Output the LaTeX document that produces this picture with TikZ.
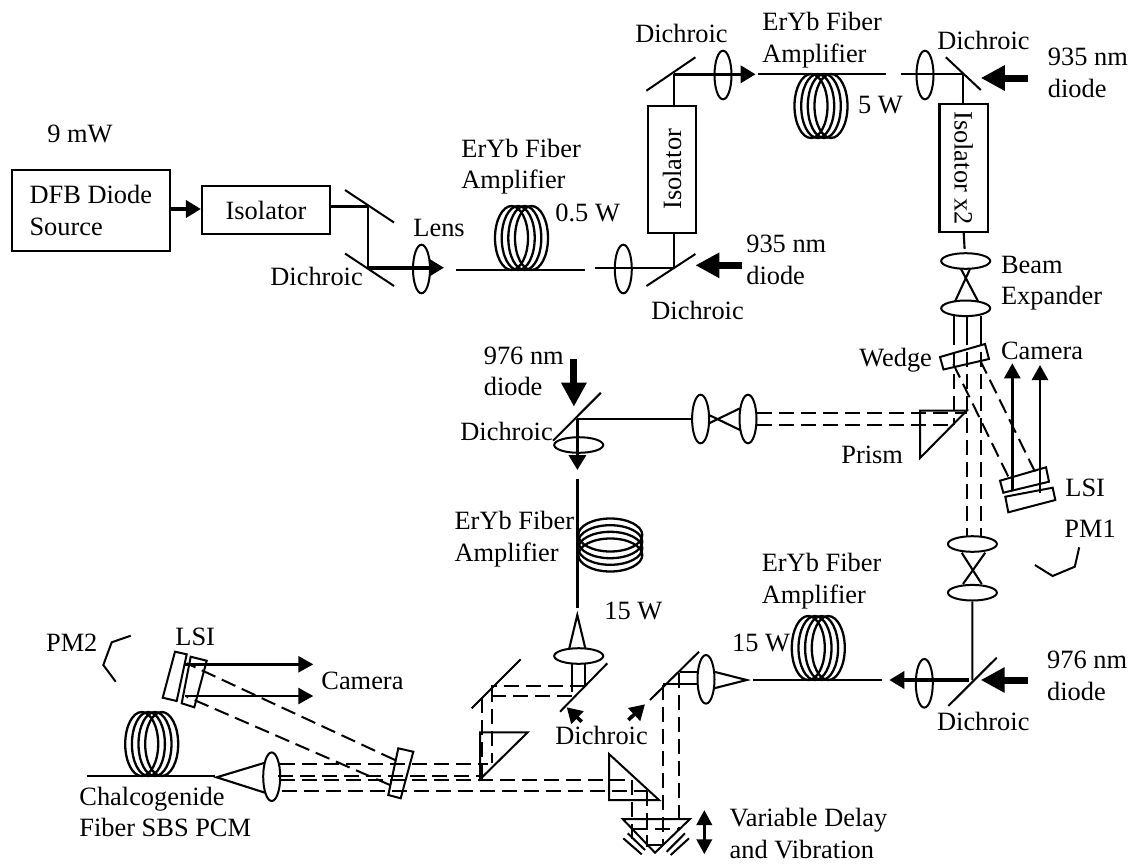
\documentclass[tikz,border=0pt]{standalone}
\usepackage{fontspec}
\setmainfont{Liberation Serif}
\usetikzlibrary{arrows.meta,shapes.geometric}

\tikzset{
    beam/.style={line width=1.05pt},
    mirror/.style={line width=1pt},
    fiber/.style={line width=1.15pt},
    dashbeam/.style={line width=1pt, dash pattern=on 7.5pt off 3.5pt},
    pumparrow/.style={line width=3.5pt, -{Triangle[length=12pt,width=12pt]}},
    beamarrow/.style={line width=1.3pt, -{Triangle[length=7.5pt,width=8pt]}},
    smallarrow/.style={line width=1.8pt, -{Triangle[length=7.5pt,width=8.5pt]}},
    box/.style={draw, line width=1.1pt, inner sep=0pt},
    lensv/.style={ellipse, draw, line width=1pt, inner sep=0pt, minimum width=8.5pt, minimum height=24.3pt},
    lensh/.style={ellipse, draw, line width=1pt, inner sep=0pt, minimum width=24.5pt, minimum height=7.8pt},
    txt/.style={inner sep=0pt, anchor=base west, align=left},
    coil/.pic={\foreach \dx in {-10,-3.3,3.3,10} \draw[fiber] (\dx,0) ellipse (16.5 and 32);}
}

\begin{document}
\begin{tikzpicture}[x=0.5pt, y=-0.5pt, font=\fontsize{13.2}{15.8}\selectfont]
\useasboundingbox (0,0) rectangle (1135,863);

% -- Source and first isolator --
\node[box, align=left, minimum width=79.2pt, minimum height=40.5pt] (dfb) at (90.8,210.5) {DFB Diode\\Source};
\node[box, minimum width=64pt, minimum height=24pt] (isoa) at (266,210) {Isolator};
\node[txt] (pseed) at (47,142) {9 mW};
\draw[smallarrow] (dfb.east |- 0,209) -- (isoa.west |- 0,209);

% -- First mirror pair and lens --
\coordinate (mira) at (368,206.5);
\coordinate (mirb) at (368,267.7);
\draw[mirror] (345,190) -- (394,222.5);
\draw[mirror] (345,253.5) -- (394,286);
\draw[fiber] (isoa.east |- mira) -- (mira);
\draw[beam] (mira) -- (mirb);
\node[lensv] (lensa) at (421.5,269) {};
\coordinate (tipa) at (444,267.7);
\draw[smallarrow] (mirb) -- (tipa);
\node[txt] (llens) at (413,236.7) {Lens};
\node[txt] (ldia) at (270,285) {Dichroic};

% -- Amplifier 0.5 W --
\draw[fiber] (456,270) -- (585,270);
\pic (coila) at (521.5,238) {coil};
\node[txt] (lampa) at (461,188.7) {ErYb Fiber\\Amplifier};
\node[txt] (pampa) at (555,221) {0.5 W};

% -- Second isolator leg --
\node[box, rotate=90, minimum width=63.6pt, minimum height=24pt] (isob) at (672.2,169.3) {Isolator};
\coordinate (mirc) at (674,268);
\coordinate (mird) at (674,74.3);
\draw[mirror] (646.4,286) -- (695.4,254);
\draw[mirror] (646.4,90.7) -- (695.4,57.3);
\draw[beam] (594.5,268) -- (mirc);
\node[lensv] (lensb) at (623.3,269) {};
\draw[beam] (mirc) -- (mirc |- isob.west);
\draw[beam] (mird |- isob.east) -- (mird);
\coordinate (pumpa) at (742.3,265.3);
\draw[pumparrow] (pumpa) -- (695.4,265.3);
\node[txt] (lpa) at (745.9,284) {935 nm\\diode};
\node[txt] (ldib) at (651,319) {Dichroic};
\node[txt] (ldic) at (634.9,42.7) {Dichroic};
\node[lensv] (lensc) at (723,75) {};
\coordinate (tipb) at (755.6,74.3);
\draw[smallarrow] (mird) -- (tipb);

% -- Amplifier 5 W --
\draw[fiber] (758,74) -- (886.4,74);
\pic (coilb) at (821,106) {coil};
\node[txt] (lampb) at (762,62) {ErYb Fiber\\Amplifier};
\node[txt] (pampb) at (857.6,113.3) {5 W};

% -- Third isolator and beam expander --
\coordinate (mire) at (962.8,74);
\draw[beam] (900.8,74) -- (mire);
\node[lensv] (lensd) at (925,75) {};
\draw[mirror] (945.9,57.3) -- (980.8,90);
\node[box, rotate=-90, minimum width=63.9pt, minimum height=24.3pt] (isoc) at (963.7,168.2) {Isolator x2};
\draw[beam] (mire) -- (mire |- isoc.west);
\node[txt] (ldid) at (936.9,49) {Dichroic};
\coordinate (pumpb) at (1028.4,78);
\draw[pumparrow] (pumpb) -- (980.8,78);
\node[txt] (lpb) at (1047.5,97) {935 nm\\diode};
\node[lensh] (expa) at (965.7,261) {};
\node[lensh] (expb) at (965.7,308.3) {};
\draw[beam] (isoc.east) -- (964.6,249);
\draw[beam] (961,269) -- (978.3,301.7);
\draw[beam] (970,269) -- (954.9,301.7);
\node[txt] (lexp) at (1000.6,304.7) {Beam\\Expander};

% -- Expanded beam, wedge and prism --
\foreach \xb in {954.3,966.7,980.7} \draw[beam] (\xb,316) -- (\xb,330);
\draw[dashbeam] (954.3,330) -- (954.3,425);
\draw[dashbeam] (966.7,330) -- (966.7,536.7);
\draw[dashbeam] (980.7,330) -- (980.7,536.7);
\draw[mirror] (940,357) -- (985,344) -- (989,359) -- (943.5,369.5) -- cycle;
\node[txt] (lwedge) at (858.9,366.7) {Wedge};
\node[txt] (lcama) at (1000.7,359.3) {Camera};
\draw[mirror] (920,458) -- (920,410.7) -- (966.7,410.7) -- cycle;
\node[txt] (lprism) at (841,463.3) {Prism};

% -- LSI with camera arrows --
\draw[dashbeam] (953.3,364) -- (1008.3,476.7);
\draw[dashbeam] (980,360) -- (1035,471.7);
\draw[mirror] (1000,480.7) -- (1046,467.3) -- (1049,481.7) -- (1003.3,492.7) -- cycle;
\draw[mirror] (1005.3,496.7) -- (1052.7,487.7) -- (1055.3,500) -- (1008.3,512.3) -- cycle;
\draw[beamarrow] (1012.3,490) -- (1012.3,363.3);
\draw[beamarrow] (1040,492.7) -- (1040,365);
\node[txt] (llsia) at (1065,496) {LSI};
\node[txt] (lpma) at (1064,537.3) {PM1};
\draw[mirror] (1079.2,547.3) -- (1074.8,566.7) -- (1052.6,576) -- (1034.9,565);

% -- Second expander and 976 nm pump --
\node[lensh] (expc) at (972.4,544) {};
\node[lensh] (expd) at (972.4,592.7) {};
\draw[beam] (961.7,552.7) -- (981.7,584);
\draw[beam] (985.2,552.7) -- (963,584);
\coordinate (mirf) at (972.3,680);
\draw[beam] (expd.south) -- (mirf);
\draw[mirror] (948.3,706) -- (996.7,657.7);
\node[lensv] (lense) at (924.3,683.3) {};
\draw[smallarrow] (969.3,680) -- (889.3,680);
\coordinate (pumpc) at (1027.7,680);
\draw[pumparrow] (pumpc) -- (980.7,680);
\node[txt] (lpc) at (1046.7,700) {976 nm\\diode};
\node[txt] (ldie) at (936.7,730.7) {Dichroic};

% -- Amplifier 15 W, lower right --
\draw[fiber] (753.3,680) -- (881.7,680);
\pic (coilc) at (818.3,648) {coil};
\node[txt] (lampc) at (761.4,603) {ErYb Fiber\\Amplifier};
\node[txt] (pampc) at (731.7,651.7) {15 W};

% -- Prism return to the 976 nm pump, upper leg --
\node[lensv] (lensf) at (700.6,419) {};
\node[lensv] (lensg) at (748,419) {};
\coordinate (mirg) at (577.4,419);
\draw[beam] (mirg) -- (lensf.west);
\draw[beam] (709,415) -- (740,430);
\draw[beam] (709,423.3) -- (740,408.3);
\draw[dashbeam] (757,412.7) -- (966.7,412.7);
\draw[dashbeam] (757,425) -- (954.3,425);
\draw[mirror] (553,440.7) -- (600.9,392.7);
\coordinate (pumpd) at (573.9,359.3);
\draw[pumparrow] (pumpd) -- (573.9,406.7);
\node[txt] (lpd) at (483.4,395.7) {976 nm\\diode};
\node[txt] (ldif) at (460,440) {Dichroic};
\node[lensh] (lensh) at (578.7,445) {};
\draw[smallarrow] (mirg) -- (577.4,470);

% -- Amplifier 15 W, middle --
\draw[fiber] (577.4,479.3) -- (577.4,608.3);
\pic[rotate=90] (coild) at (610.3,545) {coil};
\node[txt] (lampd) at (454.2,561) {ErYb Fiber\\Amplifier};
\node[txt] (pampd) at (604,619.3) {15 W};

% -- Lower centre: lens, dichroics, prisms --
\coordinate (apexa) at (577.3,615);
\draw[beam] (569.3,648.3) -- (apexa) -- (585.3,648.3);
\node[lensh] (lensi) at (578.7,656) {};
\draw[beam] (571.7,663) -- (571.7,676.7);
\draw[beam] (585.3,663) -- (585.3,676.7);
\draw[dashbeam] (571.7,676.7) -- (571.7,696.7);
\draw[dashbeam] (585.3,676.7) -- (585.3,685);
\draw[mirror] (560,711.7) -- (607.3,663.3);
\draw[dashbeam] (585,686) -- (490.7,686);
\draw[dashbeam] (571.7,696) -- (491.7,696);
\draw[mirror] (471.7,708.3) -- (520.7,659.3);
\draw[dashbeam] (481.7,698.3) -- (481.7,779.3);
\draw[dashbeam] (491.7,686.7) -- (491.7,763.3);
\draw[mirror] (480,779.3) -- (480,732.3) -- (527.7,732.3) -- cycle;
\draw[smallarrow] (581.7,721.7) -- (566.7,707.3);
\draw[smallarrow] (628.3,720) -- (645,704.3);
\node[txt] (ldig) at (555,744) {Dichroic};

% -- Delay line --
\draw[mirror] (609,754) -- (609,800) -- (659,800) -- cycle;
\draw[dashbeam] (632,780) -- (632,846.7);
\draw[dashbeam] (646.7,791.3) -- (646.7,846.7);
\draw[mirror] (622.7,819) -- (690,819) -- (655,852.7) -- cycle;
\draw[dashbeam] (633,829.3) -- (680,829.3);
\draw[mirror] (646.7,845) -- (663.3,845);
\draw[mirror] (623.3,838.3) -- (641.7,854.3);
\draw[mirror] (627.7,833.3) -- (645,850);
\draw[mirror] (666.7,851.7) -- (685,833.3);
\draw[mirror] (670.7,855) -- (689,838.3);
\draw[line width=1.8pt, {Triangle[length=7.5pt,width=7.5pt]}-{Triangle[length=7.5pt,width=7.5pt]}] (704.3,810) -- (704.3,854.3);
\node[txt] (ldelay) at (729.3,858) {Variable Delay\\and Vibration};

% -- Right leg into the delay line --
\draw[mirror] (650,700) -- (699,651.7);
\node[lensv] (lensj) at (706,679.3) {};
\draw[beam] (714,671.7) -- (746.7,680) -- (714,688.3);
\draw[beam] (680,672.3) -- (698.3,672.3);
\draw[beam] (663.3,684) -- (698.3,684);
\draw[dashbeam] (662.7,685) -- (662.7,845);
\draw[dashbeam] (678.7,673.3) -- (678.7,829.3);

% -- Long dashed runs --
\draw[dashbeam] (280,764) -- (488.3,764);
\draw[dashbeam] (278,776) -- (481.7,776);
\draw[dashbeam] (280,780) -- (632,780);
\draw[dashbeam] (281.7,791.3) -- (646.7,791.3);
\draw[mirror] (398.3,748.3) -- (413.3,751.7) -- (400.7,798.3) -- (388.3,795) -- cycle;
\draw[dashbeam] (395,760) -- (186.7,663.3);
\draw[dashbeam] (390,785) -- (186.7,696.7);

% -- LSI and camera, left --
\draw[mirror] (190.7,656.7) -- (206.7,660.7) -- (194.3,707.3) -- (181.7,703.3) -- cycle;
\draw[mirror] (175,651.7) -- (186.7,654.3) -- (176.7,701) -- (162.7,697.7) -- cycle;
\draw[beamarrow] (185,664.3) -- (313.3,664.3);
\draw[beamarrow] (185,696) -- (313.3,696);
\node[txt] (llsib) at (175,645.7) {LSI};
\node[txt] (lcamb) at (321,689.3) {Camera};
\node[txt] (lpmb) at (45.7,651.7) {PM2};
\draw[mirror] (130.7,635.7) -- (111.7,642.3) -- (103.3,665) -- (115.7,681.7);

% -- Chalcogenide fiber --
\draw[fiber] (86.7,776) -- (215,776);
\pic (coile) at (151.7,744) {coil};
\node[lensv] (lensk) at (271.7,776.7) {};
\draw[beam] (265,762.7) -- (216.7,777.3) -- (265,792.7);
\node[txt] (lchal) at (79,836.7) {Chalcogenide\\Fiber SBS PCM};

\end{tikzpicture}
\end{document}
